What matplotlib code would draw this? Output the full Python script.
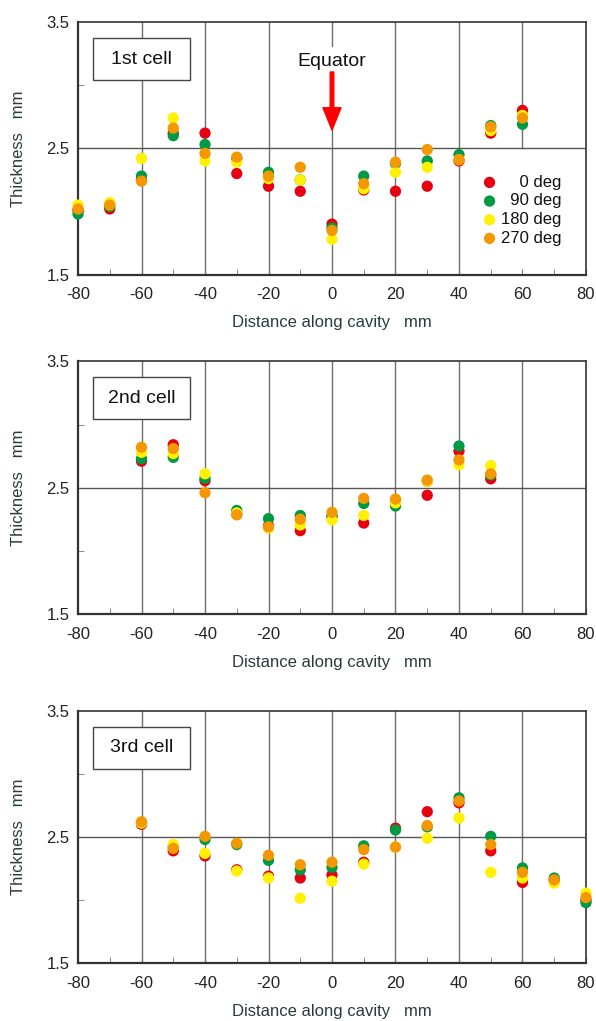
import numpy as np
import matplotlib
matplotlib.use("Agg")
from matplotlib import pyplot as plt
from matplotlib.patches import Rectangle

plt.rcParams['font.family'] = ['Liberation Sans', 'DejaVu Sans']
plt.rcParams['axes.unicode_minus'] = False

# measured wall thickness (mm) vs distance along cavity (mm)
x_cell1 = [-80, -70, -60, -50, -40, -30, -20, -10, 0, 10, 20, 30, 40, 50, 60]
cell1_0 = [2.01, 2.02, 2.25, 2.62, 2.62, 2.30, 2.20, 2.16, 1.90, 2.17, 2.16, 2.20, 2.40, 2.62, 2.80]
cell1_90 = [1.98, 2.04, 2.28, 2.60, 2.53, 2.42, 2.31, 2.25, 1.87, 2.28, 2.38, 2.40, 2.45, 2.68, 2.69]
cell1_180 = [2.05, 2.07, 2.42, 2.74, 2.40, 2.39, 2.26, 2.25, 1.78, 2.18, 2.31, 2.35, 2.41, 2.64, 2.76]
cell1_270 = [2.02, 2.05, 2.24, 2.66, 2.46, 2.43, 2.28, 2.35, 1.85, 2.22, 2.39, 2.49, 2.41, 2.67, 2.74]

x_cell2 = [-60, -50, -40, -30, -20, -10, 0, 10, 20, 30, 40, 50]
cell2_0 = [2.71, 2.84, 2.555, 2.29, 2.20, 2.16, 2.27, 2.22, 2.38, 2.44, 2.79, 2.57]
cell2_90 = [2.73, 2.74, 2.575, 2.32, 2.255, 2.28, 2.27, 2.375, 2.355, 2.55, 2.83, 2.60]
cell2_180 = [2.78, 2.77, 2.61, 2.30, 2.18, 2.205, 2.245, 2.28, 2.38, 2.55, 2.68, 2.675]
cell2_270 = [2.82, 2.81, 2.46, 2.285, 2.19, 2.25, 2.305, 2.415, 2.41, 2.56, 2.72, 2.61]

x_cell3 = [-60, -50, -40, -30, -20, -10, 0, 10, 20, 30, 40, 50, 60, 70, 80]
cell3_0 = [2.60, 2.39, 2.35, 2.24, 2.19, 2.175, 2.20, 2.30, 2.57, 2.70, 2.77, 2.39, 2.14, 2.16, 2.00]
cell3_90 = [2.61, 2.42, 2.48, 2.44, 2.315, 2.24, 2.26, 2.43, 2.555, 2.58, 2.81, 2.505, 2.255, 2.175, 1.98]
cell3_180 = [2.61, 2.44, 2.37, 2.23, 2.175, 2.015, 2.15, 2.285, 2.42, 2.49, 2.65, 2.22, 2.175, 2.135, 2.055]
cell3_270 = [2.62, 2.41, 2.505, 2.45, 2.355, 2.28, 2.30, 2.40, 2.42, 2.59, 2.785, 2.44, 2.22, 2.16, 2.02]

angle_labels = ["\u2007\u20070 deg", "\u200790 deg", "180 deg", "270 deg"]
colors = ["#e60012", "#009a44", "#fff100", "#f39800"]
cell_names = ["1st cell", "2nd cell", "3rd cell"]
x_ticks = [-80, -60, -40, -20, 0, 20, 40, 60, 80]
y_ticks = [1.5, 2.5, 3.5]

cells = [
    (x_cell1, [cell1_0, cell1_90, cell1_180, cell1_270]),
    (x_cell2, [cell2_0, cell2_90, cell2_180, cell2_270]),
    (x_cell3, [cell3_0, cell3_90, cell3_180, cell3_270]),
]

fig = plt.figure(figsize=(5.96, 10.21), dpi=100)
bottoms = [0.7310, 0.3986, 0.0565]
label_col = "#2b3b3b"
tick_col = "#222222"

for i, (xs, series) in enumerate(cells):
    ax = fig.add_axes([0.1309, bottoms[i], 0.8523, 0.2475])
    ax.set_xlim(-80, 80)
    ax.set_ylim(1.5, 3.5)

    # grid lines drawn by hand (one is partly hidden in the first panel)
    for xt in x_ticks[1:-1]:
        ymin = 0.5 if (i == 0 and xt == 60) else 0
        ax.axvline(xt, ymin=ymin, ymax=1, color="#6e6e6e", lw=1, zorder=1)
    ax.axhline(2.5, color="#555555", lw=1, zorder=1)

    for ys, c, lab in zip(series, colors, angle_labels):
        ax.scatter(xs, ys, s=66, color=c, edgecolors="none", zorder=3, label=lab,
                   clip_on=False)

    ax.set_xticks(x_ticks)
    ax.set_yticks(y_ticks)
    ax.set_yticklabels(["1.5", "2.5", "3.5"])
    ax.set_xticks(np.arange(-70, 80, 20), minor=True)
    ax.set_yticks([2.0, 3.0], minor=True)
    ax.tick_params(axis="both", which="both", direction="in", colors="#777777",
                   labelcolor=tick_col, labelsize=12)
    ax.tick_params(axis="x", which="major", length=4, pad=9)
    ax.tick_params(axis="y", which="major", length=0, pad=6)
    ax.tick_params(axis="both", which="minor", length=4)
    for name, sp in ax.spines.items():
        sp.set_color("#333333")
        sp.set_linewidth(1.6 if name in ("left", "bottom") else 1.2)
        sp.set_zorder(2.5)

    ax.set_xlabel("Distance along cavity   mm", fontsize=12, color=label_col)
    ax.xaxis.label.set_va("center")
    ax.xaxis.set_label_coords(0.5, -0.19)
    ax.set_ylabel("Thickness   mm", fontsize=12, color=label_col)
    ax.yaxis.label.set_va("center")
    ax.yaxis.set_label_coords(-0.117, 0.5)

    ax.add_patch(Rectangle((-75.3, 3.04), 30.6, 0.333, facecolor="white",
                           edgecolor="#444444", lw=1, zorder=2))
    ax.text(-60, 3.205, cell_names[i], fontsize=14, ha="center", va="center",
            color="#111111", zorder=5)

    if i == 0:
        ax.text(0, 3.19, "Equator", fontsize=14, ha="center", va="center", color="#111111",
                zorder=5, bbox=dict(facecolor="white", edgecolor="none", pad=4))
        ax.annotate("", xy=(0, 2.645), xytext=(0, 3.104),
                    arrowprops=dict(color="#ff0000", width=2.6, headwidth=13,
                                    headlength=16, shrink=0),
                    zorder=5)
        leg = ax.legend(loc="upper right", bbox_to_anchor=(0.962, 0.415),
                        fontsize=12, frameon=True, handlelength=0.7,
                        handletextpad=0.35, labelspacing=0.22, borderpad=0.3,
                        borderaxespad=0, scatterpoints=1)
        leg.get_frame().set_facecolor("white")
        leg.get_frame().set_edgecolor("none")
        leg.get_frame().set_alpha(1)
        leg.set_zorder(2)
        for t in leg.get_texts():
            t.set_color("#111111")

fig.savefig("out.png", dpi=100)
